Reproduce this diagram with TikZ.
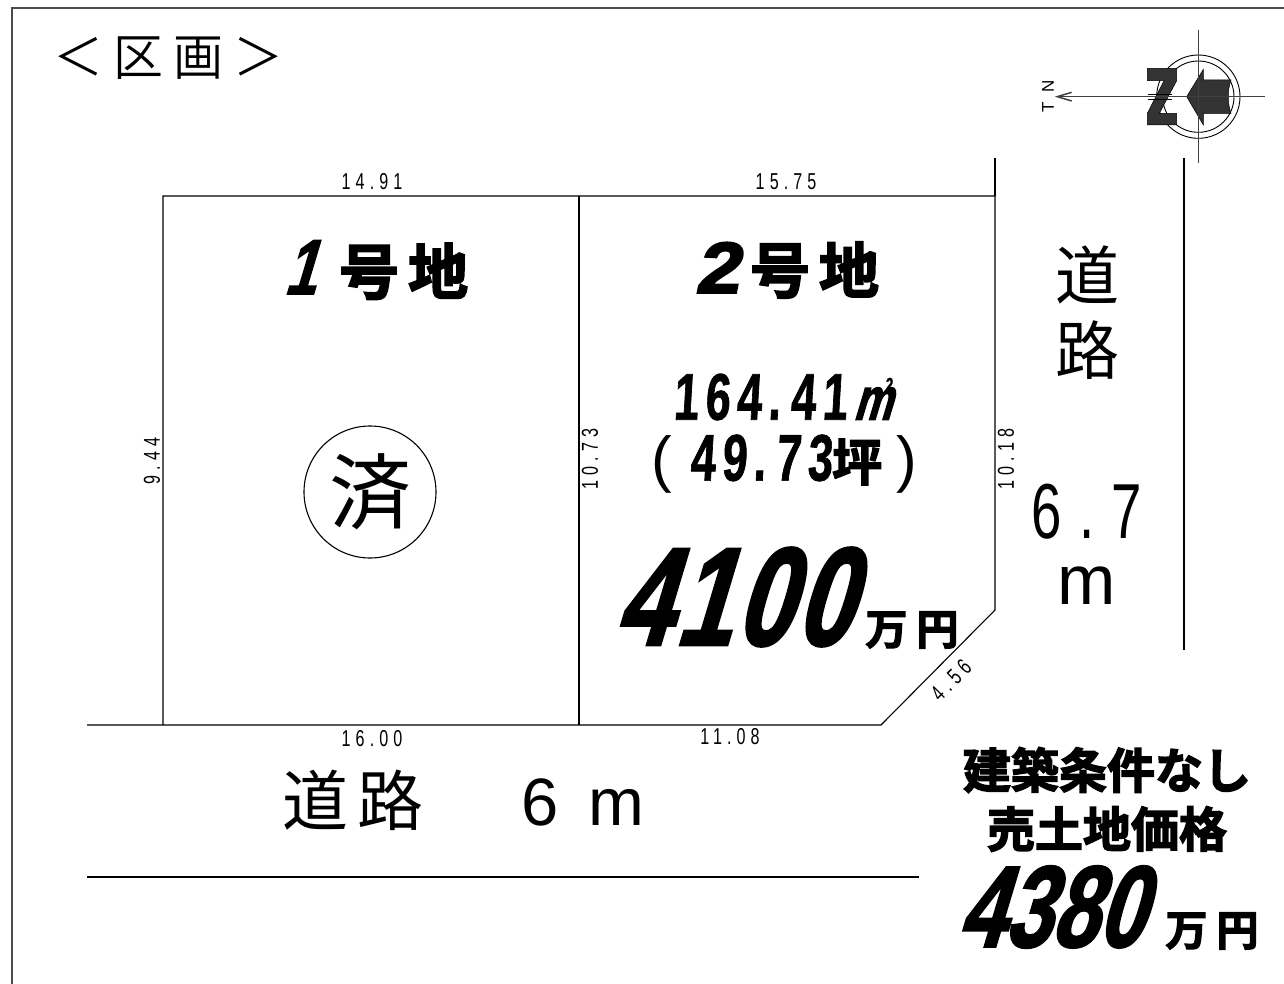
\documentclass[tikz,border=0pt]{standalone}
\usepackage{fontspec}
\setmainfont{Liberation Sans}
\newfontfamily\cjk{Noto Sans CJK JP}
\newfontfamily\titlefont[LetterSpace=20]{Noto Sans CJK JP DemiLight}
\newfontfamily\cjkheavy[FakeBold=3]{Noto Sans CJK JP Bold}
\newfontfamily\dimfont[LetterSpace=22,FakeStretch=0.7]{Liberation Sans}
\newfontfamily\numfont[FakeStretch=0.68,FakeSlant=0.06,FakeBold=1,LetterSpace=10]{Liberation Sans Bold}
\newfontfamily\pricefont[FakeStretch=0.72,FakeSlant=0.3,FakeBold=1.8]{Liberation Sans Bold}
\newfontfamily\lotfont[FakeStretch=1.1,FakeSlant=0.2,FakeBold=3]{Liberation Sans Bold}
\newcommand{\fs}[1]{\fontsize{#1}{#1}\selectfont}
\newcommand{\lotname}[2]{#1\hspace{#2}{\cjkheavy\fs{60}号\hspace{9pt}地}}
\newcommand{\mansuffix}{万\hspace{9pt}円}
\tikzset{
txt/.style={inner sep=0pt,anchor=center},
dimlab/.style={txt,font=\dimfont\fs{23}},
bigcjk/.style={txt,font=\cjk\fs{#1}},
heavycjk/.style={txt,font=\cjkheavy\fs{#1}},
numlab/.style={txt,font=\numfont\fs{66}},
pricelab/.style={txt,font=\pricefont\fs{#1}},
northfill/.style={draw=black,fill=black!80,line width=0.5pt},
}
\begin{document}
\begin{tikzpicture}[x=1pt,y=-1pt,line width=1.1pt]
\useasboundingbox (0,0) rectangle (1284,984);
\coordinate (ftop) at (1284,8);
\coordinate (fbot) at (12,984);
\draw[black!70] (fbot)--(12,8)--(ftop);
% lots
\coordinate (a) at (163,196);
\coordinate (b) at (579,196);
\coordinate (c) at (995,196);
\coordinate (d) at (995,610);
\coordinate (e) at (881,725);
\coordinate (f) at (579,725);
\coordinate (g) at (163,725);
\draw (g)--(a)--(c)--(d)--(e)--(87,725);
\draw (b)--(f);
\draw (c)--(995,158);
\draw (87,877)--(919,877);
\draw (1184,158)--(1184,650);
% north mark
\begin{scope}[shift={(1020,30)},scale=1/3]
\coordinate (n) at (535,200);
\draw[line width=0.9pt] (n) circle (125);
\draw[line width=0.9pt] (n) circle (107);
\draw[northfill] (382,115)--(470,115)--(470,152)--(418,250)--(470,250)--(470,285)--(382,285)--(382,250)--(432,152)--(382,152)--cycle;
\draw[northfill] (500,200)--(550,118)--(550,150)--(633,150) .. controls (622,180) and (622,220) .. (633,250)--(550,250)--(550,285)--cycle;
\draw[black!75,line width=1.5pt] (535,0)--(535,400);
\draw[black!75,line width=1.5pt] (112,200)--(735,200);
\draw[black!75,line width=1.5pt] (155,187)--(112,200)--(155,213);
\draw[line width=0.7pt] (385,192)--(455,192) (385,208)--(455,208);
\end{scope}
\node[txt,rotate=90,font=\fs{17}] (nn) at (1048,86) {N};
\node[txt,rotate=90,font=\fs{17}] (nt) at (1048,107) {T};
% texts
\node[txt,font=\titlefont\fs{50}] (title) at (168,58) {＜区画＞};
\node[dimlab] (t1) at (372,182) {14.91};
\node[dimlab] (t2) at (786,182) {15.75};
\node[dimlab] (b1) at (372,739) {16.00};
\node[dimlab] (b2) at (730,737) {11.08};
\node[dimlab,rotate=90] (l1) at (152,461) {9.44};
\node[dimlab,rotate=90] (l2) at (590,459) {10.73};
\node[dimlab,rotate=90] (l3) at (1006,459) {10.18};
\node[dimlab,rotate=45] (l4) at (951,680) {4.56};
\node[txt] (lot1) at (376,270) {\lotname{\pricefont\fs{78}1}{24pt}};
\node[txt] (lot2) at (787,270) {\lotname{\lotfont\fs{72}2}{11pt}};
\node[draw,circle,minimum size=132pt,inner sep=0pt] (sold) at (370,492) {};
\node[bigcjk=82] (soldtxt) at (sold) {済};
\node[numlab] (area) at (783,397) {164.\hspace{10pt}41\hspace{6pt}{\pricefont\fs{60}m}\hspace{-6pt}\raisebox{28pt}{\fs{20}2}};
\node[numlab] (tsubo) at (784,464) {{\rmfamily\fs{62}(}\hspace{18pt}49.\hspace{10pt}73{\cjkheavy\fs{50}坪}\hspace{14pt}{\rmfamily\fs{62})}};
\node[pricelab=140] (price) at (732,597) {4\hspace{4pt}1\hspace{4pt}0\hspace{4pt}0};
\node[heavycjk=42] (man) at (912,630) {\mansuffix};
\node[bigcjk=64] (r1) at (1087,275) {道};
\node[bigcjk=64] (r2) at (1087,350) {路};
\node[txt,font=\dimfont\fs{78}] (w) at (1087,512) {6.7};
\node[txt,font=\fs{70}] (wm) at (1087,586) {m};
\node[bigcjk=66] (road) at (353,800) {道\hspace{10pt}路};
\node[txt,font=\fs{67}] (roadw) at (583,802) {6\hspace{30pt}m};
\node[heavycjk=48] (cond) at (1107,770) {建築条件なし};
\node[heavycjk=48] (sale) at (1107,829) {売土地価格};
\node[pricelab=116] (total) at (1050,907) {4380};
\node[heavycjk=42] (man2) at (1212,931) {\mansuffix};
\end{tikzpicture}
\end{document}
